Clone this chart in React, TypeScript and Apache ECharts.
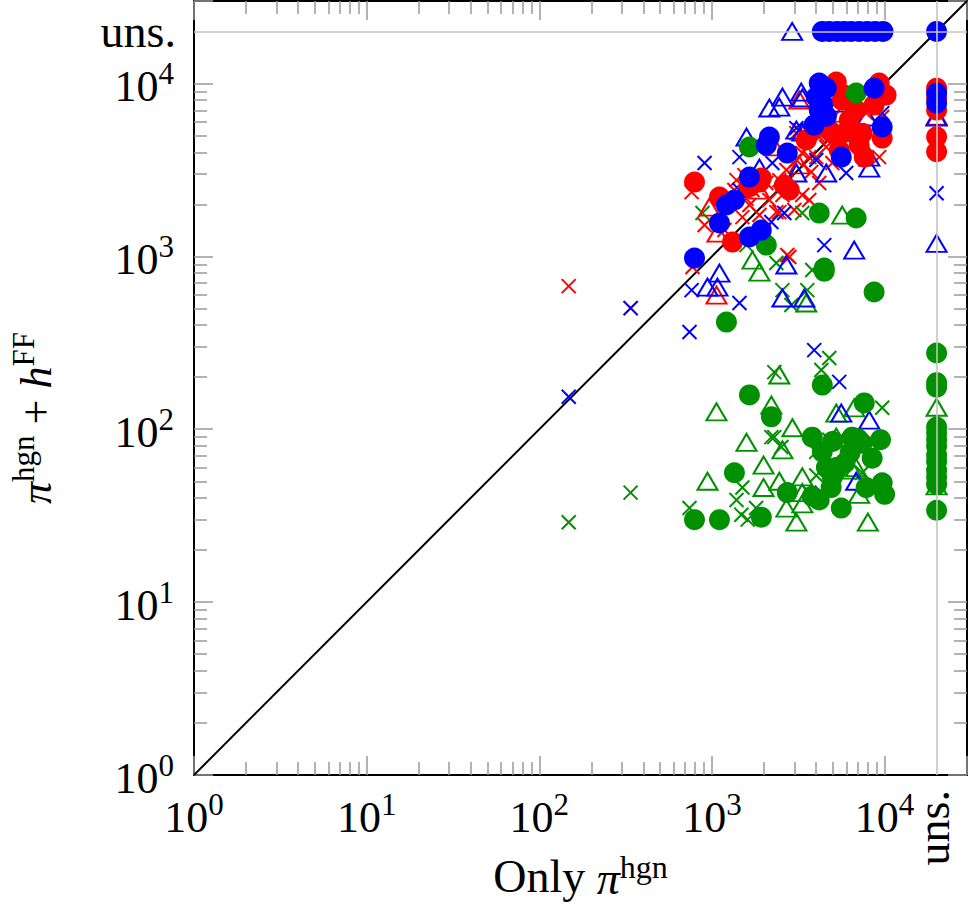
import React, { useEffect, useRef } from "react";
import * as echarts from "echarts";

// ---- data (x = Only π^hgn, y = π^hgn + h^FF); 20000 = "uns." (unsolved) ----
const UNS = 20000;
const AXIS_MIN = 1;
const AXIS_MAX = 30000;
const MINOR_TICKS: number[] = [
  2, 3, 4, 5, 6, 7, 8, 9,
  20, 30, 40, 50, 60, 70, 80, 90,
  200, 300, 400, 500, 600, 700, 800, 900,
  2000, 3000, 4000, 5000, 6000, 7000, 8000, 9000,
];

const redCircles: [number, number][] = [
  [792, 2690], [1105, 2203], [1315, 1210], [1931, 2840], [1883, 2690], [1648, 2520],
  [2805, 2418], [3516, 4710], [4980, 5160], [5250, 10190], [9300, 10050], [10200, 8570],
  [6840, 7020], [7410, 5160], [9680, 4830], [7620, 3750], [5990, 5240], [5680, 8010],
  [4300, 6000], [3900, 5500], [5830, 8570], [6240, 6140], [4780, 5370], [8690, 7500],
  [7120, 4400], [5460, 4120], [3910, 5740], [2624, 2580],
  [UNS, 9400], [UNS, 8240], [UNS, 7020], [UNS, 4920], [UNS, 4030],
];
const redTriangles: [number, number][] = [
  [965, 1928], [1076, 1364], [1883, 2418], [3206, 8010], [5680, 6740], [1062, 597],
  [3206, 3380], [2300, 4300], [UNS, 6470],
];
const redCrosses: [number, number][] = [
  [148, 673], [338, 502], [762, 2353], [771, 867], [906, 1517], [1500, 1687], [1387, 2760],
  [1716, 2418], [2065, 2655], [2455, 2760], [2698, 3162], [3083, 3606], [3663, 3750],
  [4980, 3465], [4590, 4290], [4180, 4900], [3206, 5370], [3083, 5160], [3335, 3960],
  [4020, 3750], [9300, 3750], [9680, 6400], [7820, 6740], [4180, 2655], [2560, 2263],
  [3335, 2263], [2455, 1803], [2360, 1803], [2805, 991], [2730, 1018], [1585, 2150],
  [1648, 1982], [1883, 1733], [2150, 2118], [2010, 1420], [3000, 1853], [3663, 2118],
  [1181, 1420], [1349, 2418], [3758, 3074], [1541, 2951],
];
const greenCircles: [number, number][] = [
  [1648, 4290], [6840, 8800], [4180, 1780], [6840, 1667], [2065, 1162], [4470, 856],
  [4470, 820], [8690, 622], [1213, 417], [4355, 180], [1648, 158], [2208, 118], [7620, 142],
  [3810, 90], [4355, 74], [6490, 90], [7410, 83], [9470, 87], [8470, 68], [6310, 73],
  [5250, 60], [4980, 53], [4900, 46], [7820, 46], [9680, 49], [10000, 42], [5610, 35],
  [4180, 39], [3810, 41], [2730, 43], [1931, 31], [1105, 30], [792, 30], [1349, 56],
  [5000, 85], [5900, 64], [4600, 60], [7000, 88],
  [UNS, 276], [UNS, 186], [UNS, 175], [UNS, 103], [UNS, 95], [UNS, 87], [UNS, 80],
  [UNS, 71], [UNS, 65], [UNS, 58], [UNS, 53], [UNS, 48], [UNS, 34],
];
const greenTriangles: [number, number][] = [
  [5680, 1733], [1716, 952], [1883, 811], [3516, 537], [2455, 206], [1062, 126], [2208, 138],
  [6665, 133], [5250, 124], [2924, 102], [1585, 84], [2560, 76], [942, 50], [1990, 62],
  [1990, 46], [2455, 50], [3335, 53], [3335, 43], [3335, 37], [2698, 35], [3083, 29],
  [7120, 42], [8000, 29], [6490, 58], [6840, 60], [5250, 90], [UNS, 134], [UNS, 47],
];
const greenCrosses: [number, number][] = [
  [148, 29], [338, 43], [881, 1780], [1585, 1162], [2360, 915], [2560, 638], [3565, 638],
  [2884, 523], [3810, 833], [3335, 1780], [4780, 258], [4300, 220], [2296, 214], [9680, 133],
  [2296, 90], [2524, 79], [2208, 90], [4780, 87], [5460, 89], [4020, 54], [4020, 74],
  [7410, 56], [741, 35], [1500, 46], [1387, 39], [1480, 32], [1610, 30], [1800, 35],
];
const blueCircles: [number, number][] = [
  [792, 977], [1105, 1559], [1213, 1982], [1349, 2118], [1648, 1294], [1931, 1420],
  [1648, 2875], [2730, 3960], [2150, 4900], [2065, 4400], [5610, 3750], [4180, 10050],
  [4590, 9400], [4020, 8340], [4355, 7700], [4180, 7020], [8690, 9400], [9680, 5600],
  [4600, 6470], [3900, 5740],
  [4355, UNS], [4780, UNS], [5310, UNS], [5830, UNS], [6400, UNS], [7120, UNS], [7930, UNS],
  [8810, UNS], [9790, UNS], [UNS, UNS], [UNS, 8790], [UNS, 7700],
];
const blueTriangles: [number, number][] = [
  [2913, UNS], [2560, 8340], [2150, 7210], [2455, 7300], [3290, 8910], [3335, 8240],
  [5460, 7700], [7930, 6400], [8150, 3750], [8150, 3240], [4590, 3035], [3083, 3035],
  [1883, 3240], [3083, 5370], [3335, 5240], [1585, 4900], [2698, 891], [6665, 1087],
  [942, 664], [1076, 664], [1105, 800], [2560, 574], [3427, 574], [5610, 124], [8150, 113],
  [6840, 50], [UNS, 6400], [UNS, 1190],
];
const blueCrosses: [number, number][] = [
  [148, 154], [338, 502], [906, 3465], [762, 638], [741, 365], [1443, 537], [1443, 3750],
  [1443, 2418], [2624, 1780], [2208, 1579], [4470, 1162], [3083, 5520], [3663, 5160],
  [6490, 5600], [5990, 3035], [4020, 3606], [2239, 3465], [9680, 6740], [3910, 287],
  [5460, 188], [3663, 43], [UNS, 2320],
];
const diagonal: [number, number][] = [[AXIS_MIN, AXIS_MIN], [AXIS_MAX, AXIS_MAX]];

const RED = "#ff0000";
const GREEN = "#009000";
const BLUE = "#0000ff";
const FONT = "Liberation Serif";
const CROSS = "path://M0,0L10,10M10,0L0,10";

const supFmt = (v: number) => {
  const e = Math.log10(v);
  const r = Math.round(e);
  if (Math.abs(e - r) > 1e-6) return "";
  return "{b|10}{s|" + r + "}";
};
const richNum = {
  b: { fontSize: 44, lineHeight: 50, verticalAlign: "bottom", fontFamily: FONT, color: "#000" },
  s: { fontSize: 31, lineHeight: 28, verticalAlign: "top", fontFamily: FONT, color: "#000" },
};
const tickStyle = { color: "#9a9a9a", width: 1.5 };

function majorAxis(position: string, withLabels: boolean, margin: number) {
  return {
    type: "log",
    logBase: 10,
    min: AXIS_MIN,
    max: AXIS_MAX,
    position,
    axisLine: { show: true, onZero: false, lineStyle: { color: "#000", width: 2 } },
    axisTick: { show: true, inside: true, length: 19, lineStyle: tickStyle },
    minorTick: { show: false },
    splitLine: { show: false },
    minorSplitLine: { show: false },
    axisLabel: withLabels
      ? { show: true, margin, formatter: supFmt, rich: richNum, fontFamily: FONT }
      : { show: false },
  };
}
function minorAxis(position: string) {
  return {
    type: "log",
    logBase: 10,
    min: AXIS_MIN,
    max: AXIS_MAX,
    position,
    axisLine: { show: false, onZero: false },
    axisTick: { show: true, inside: true, length: 13, lineStyle: tickStyle, customValues: MINOR_TICKS },
    minorTick: { show: false },
    splitLine: { show: false },
    axisLabel: { show: false },
  };
}

function scatter(name: string, data: [number, number][], color: string, kind: string) {
  const base: any = { name, type: "scatter", data, z: 3 };
  if (kind === "circle") {
    base.symbol = "circle";
    base.symbolSize = 21;
    base.itemStyle = { color, opacity: 1 };
  } else if (kind === "triangle") {
    base.symbol = "triangle";
    base.symbolSize = [20, 17];
    base.itemStyle = { color: "rgba(0,0,0,0)", borderColor: color, borderWidth: 2, opacity: 1 };
  } else {
    base.symbol = CROSS;
    base.symbolSize = 14;
    base.itemStyle = { color: "rgba(0,0,0,0)", borderColor: color, borderWidth: 2, opacity: 1 };
  }
  return base;
}

export default function App() {
  const ref = useRef<HTMLDivElement>(null);
  useEffect(() => {
    if (!ref.current) return;
    const chart = echarts.init(ref.current, null, { renderer: "svg" });
    const xMain: any = majorAxis("bottom", true, 14);
    xMain.name = "Only {i|π}{s|hgn}";
    xMain.nameLocation = "middle";
    xMain.nameGap = 76;
    xMain.nameTextStyle = {
      fontSize: 46,
      fontFamily: FONT,
      color: "#000",
      rich: {
        i: { fontSize: 46, fontStyle: "italic", fontFamily: FONT, lineHeight: 50, verticalAlign: "bottom" },
        s: { fontSize: 32, fontFamily: FONT, lineHeight: 28, verticalAlign: "top" },
      },
    };
    const yMain: any = majorAxis("left", true, 20);
    yMain.name = "{i|π}{s|hgn}{r| + }{i|h}{s|FF}";
    yMain.nameLocation = "middle";
    yMain.nameGap = 136;
    yMain.nameRotate = 90;
    yMain.nameTextStyle = {
      fontSize: 44,
      fontFamily: FONT,
      color: "#000",
      padding: [0, 60, 0, 0],
      rich: {
        i: { fontSize: 44, fontStyle: "italic", fontFamily: FONT, lineHeight: 50, verticalAlign: "bottom" },
        r: { fontSize: 44, fontFamily: FONT, lineHeight: 50, verticalAlign: "bottom" },
        s: { fontSize: 31, fontFamily: FONT, lineHeight: 28, verticalAlign: "top" },
      },
    };
    const option: any = {
      animation: false,
      backgroundColor: "#fff",
      textStyle: { fontFamily: FONT },
      grid: { left: 194, top: 1, width: 773, height: 774, containLabel: false },
      xAxis: [xMain, majorAxis("top", false, 0), minorAxis("bottom"), minorAxis("top")],
      yAxis: [yMain, majorAxis("right", false, 0), minorAxis("left"), minorAxis("right")],
      series: [
        {
          name: "diagonal",
          type: "line",
          data: diagonal,
          showSymbol: false,
          symbol: "none",
          lineStyle: { color: "#000", width: 2 },
          z: 2,
          silent: true,
          markLine: {
            silent: true,
            symbol: ["none", "none"],
            lineStyle: { color: "#c4c4c4", width: 1.6, type: "solid" },
            label: { show: false },
            data: [
              { xAxis: UNS },
              {
                yAxis: UNS,
                label: {
                  show: true,
                  position: "start",
                  distance: 18,
                  formatter: "uns.",
                  fontSize: 46,
                  fontFamily: FONT,
                  color: "#000",
                },
              },
            ],
          },
        },
        scatter("red ×", redCrosses, RED, "cross"),
        scatter("green ×", greenCrosses, GREEN, "cross"),
        scatter("blue ×", blueCrosses, BLUE, "cross"),
        scatter("red △", redTriangles, RED, "triangle"),
        scatter("green △", greenTriangles, GREEN, "triangle"),
        scatter("blue △", blueTriangles, BLUE, "triangle"),
        scatter("red ●", redCircles, RED, "circle"),
        scatter("green ●", greenCircles, GREEN, "circle"),
        scatter("blue ●", blueCircles, BLUE, "circle"),
      ],
    };
    chart.setOption(option);
    const p = chart.convertToPixel({ xAxisIndex: 0, yAxisIndex: 0 }, [UNS, AXIS_MIN]) as number[];
    chart.setOption({
      graphic: [
        {
          type: "text",
          x: p[0] - 3,
          y: p[1] + 15,
          rotation: Math.PI / 2,
          style: {
            text: "uns.",
            fontSize: 46,
            fontFamily: FONT,
            fill: "#000",
            align: "right",
            verticalAlign: "middle",
          },
        },
      ],
    });
    return () => chart.dispose();
  }, []);
  return (
    <div
      ref={ref}
      style={{ position: "fixed", left: 0, top: 0, width: 970, height: 922, background: "#fff" }}
    />
  );
}
